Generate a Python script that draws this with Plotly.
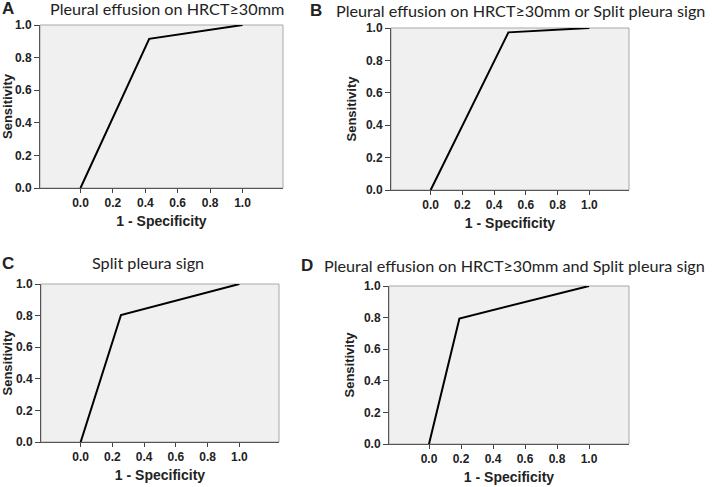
import plotly.graph_objects as go

W, H = 712, 487

panel_letters = ["A", "B", "C", "D"]
panel_titles = [
    "Pleural effusion on HRCT≥30mm",
    "Pleural effusion on HRCT≥30mm or Split pleura sign",
    "Split pleura sign",
    "Pleural effusion on HRCT≥30mm and Split pleura sign",
]
fpr_A = [0.0, 0.424, 1.0]
tpr_A = [0.0, 0.915, 1.0]
fpr_B = [0.0, 0.49, 1.0]
tpr_B = [0.0, 0.973, 1.0]
fpr_C = [0.0, 0.254, 1.0]
tpr_C = [0.0, 0.804, 1.0]
fpr_D = [0.0, 0.19, 1.0]
tpr_D = [0.0, 0.794, 1.0]
tick_vals = [0.0, 0.2, 0.4, 0.6, 0.8, 1.0]
tick_text = ["0.0", "0.2", "0.4", "0.6", "0.8", "1.0"]
x_label = "1 - Specificity"
y_label = "Sensitivity"

series = [(fpr_A, tpr_A), (fpr_B, tpr_B), (fpr_C, tpr_C), (fpr_D, tpr_D)]

# plot-area boxes in pixels (left, right, top, bottom)
boxes = [(40, 283, 25, 188), (391, 629, 28, 190), (41, 279, 284, 442), (389, 629, 286, 444)]
# letter center and title left start (pixels)
letter_pos = [(8, 9), (316, 11), (8, 263), (307, 265)]
title_pos = [(48, 9), (334, 11), (90, 262), (322, 265)]

FONT = "Liberation Sans, Arial"
fig = go.Figure()
for i, ((xs, ys), (l, r, t, b)) in enumerate(zip(series, boxes)):
    n = "" if i == 0 else str(i + 1)
    fig.add_trace(go.Scatter(x=xs, y=ys, mode="lines", line=dict(color="black", width=2),
                             xaxis="x" + n, yaxis="y" + n, showlegend=False, hoverinfo="x+y"))
    xd = [l / W, r / W]
    yd = [1 - b / H, 1 - t / H]
    fig.layout["xaxis" + n] = dict(
        domain=xd, anchor="y" + n, range=[-0.25, 1.25], tickvals=tick_vals, ticktext=tick_text,
        ticks="outside", ticklen=4, tickcolor="#444", showline=True, linecolor="#555", linewidth=1,
        showgrid=False, zeroline=False, automargin=False,
        tickfont=dict(family=FONT, size=12, color="#222", weight="bold"),
        title=dict(text=x_label, standoff=6,
                   font=dict(family=FONT, size=14, color="#222", weight="bold")),
    )
    fig.layout["yaxis" + n] = dict(
        domain=yd, anchor="x" + n, range=[0, 1], tickvals=tick_vals, ticktext=tick_text,
        ticks="outside", ticklen=5, tickcolor="#444", showline=True, linecolor="#555", linewidth=1,
        showgrid=False, zeroline=False, automargin=False,
        tickfont=dict(family=FONT, size=12, color="#222", weight="bold"),
        title=dict(text=y_label, standoff=6,
                   font=dict(family=FONT, size=13, color="#222", weight="bold")),
    )
    fig.add_shape(type="rect", xref="paper", yref="paper", x0=xd[0], x1=xd[1], y0=yd[0], y1=yd[1],
                  fillcolor="#f0f0f0", line=dict(color="#a8a8a8", width=1), layer="below")
    lx, ly = letter_pos[i]
    fig.add_annotation(x=lx / W, y=1 - ly / H, xref="paper", yref="paper", text="<b>" + panel_letters[i] + "</b>",
                       showarrow=False, xanchor="center", yanchor="middle",
                       font=dict(family=FONT, size=17, color="#222"))
    tx, ty = title_pos[i]
    fig.add_annotation(x=tx / W, y=1 - ty / H, xref="paper", yref="paper", text=panel_titles[i],
                       showarrow=False, xanchor="left", yanchor="middle",
                       font=dict(family="Lato", size=16.2, color="#222"))

fig.update_layout(width=W, height=H, margin=dict(l=0, r=0, t=0, b=0, autoexpand=False),
                  paper_bgcolor="white", plot_bgcolor="rgba(0,0,0,0)")
fig.write_html("out.html", config={"displayModeBar": False},
               post_script="document.body.style.margin='0';document.body.style.padding='0';")
